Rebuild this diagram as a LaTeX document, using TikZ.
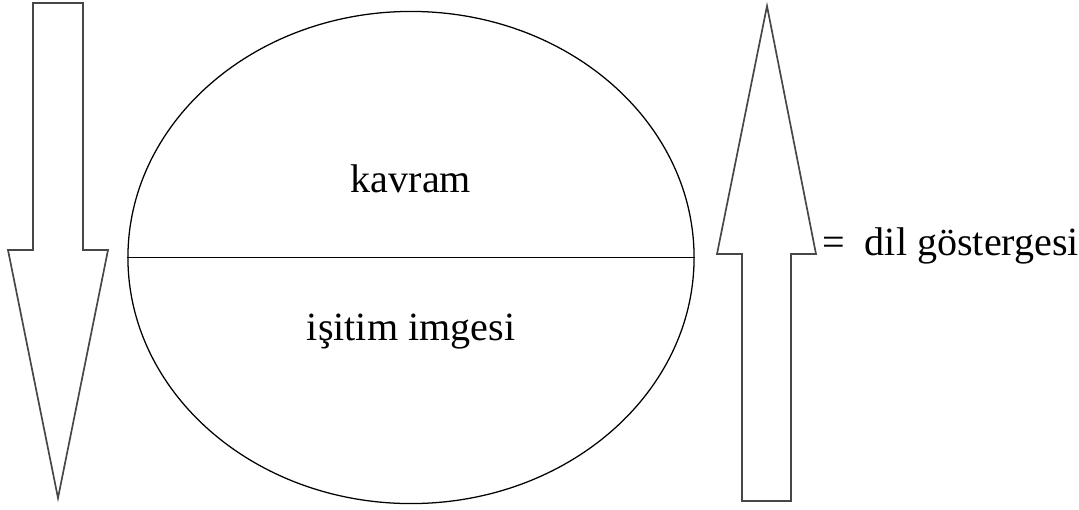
\documentclass[tikz,border=0pt]{standalone}
\usepackage{fontspec}
\setmainfont{Liberation Serif}
\usepackage{tikz}
\usetikzlibrary{shapes.geometric,positioning,calc}

\begin{document}
\begin{tikzpicture}[
  x=0.025cm, y=-0.025cm,
  every node/.style={font=\fontsize{28.5}{34}\selectfont},
  sign/.style={draw, ellipse, line width=0.9pt, inner sep=0pt,
               minimum width=14.15cm, minimum height=12.3cm},
  bigarrow/.style={draw=black!72, line width=1.2pt, line join=miter},
  label/.style={anchor=base, inner sep=0pt}
]
\useasboundingbox (0,0) rectangle (1079,509);

% the sign: concept over sound image
\node[sign] (sign) at (411,257.5) {};
\draw[line width=0.9pt] (sign.west) -- (sign.east);
\node[label] (kavram) at (411,192) {kavram};
\node[label] (imge) at (411,340) {işitim imgesi};

% arrows on both sides
\draw[bigarrow] (33,3) -- (83,3) -- (83,250) -- (108,250) -- (58,498)
  -- (8,250) -- (33,250) -- cycle;
\draw[bigarrow] (767,6) -- (816,254) -- (791,254) -- (791,501)
  -- (742,501) -- (742,254) -- (717,254) -- cycle;

\node[label, anchor=base west] (dil) at (822,255) {=\hspace{0.5em}dil göstergesi};
\end{tikzpicture}
\end{document}
